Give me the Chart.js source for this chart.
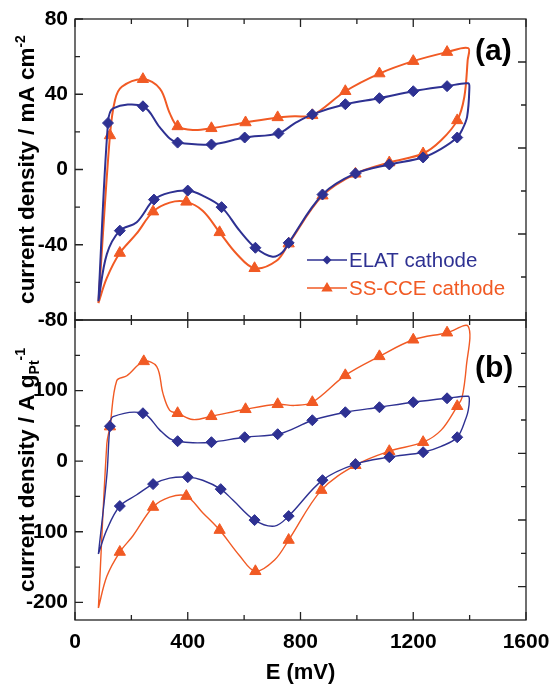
<!DOCTYPE html>
<html>
<head>
<meta charset="utf-8">
<script src="https://cdn.jsdelivr.net/npm/chart.js@4.4.1/dist/chart.umd.min.js"></script>
<style>
    html, body { margin: 0; padding: 0; background: #fff; }
    #wrap { position: relative; width: 550px; height: 686px; }
    #wrap canvas { position: absolute; left: 0; top: 0; }
</style>
</head>
<body>
<div id="wrap">
    <canvas id="chartA" width="550" height="686"></canvas>
    <canvas id="chartB" width="550" height="686"></canvas>
</div>
<script>
// Axis ticks
const xTicks = [0, 400, 800, 1200, 1600];
const yTicksA = [-80, -40, 0, 40, 80];
const yTicksB = [-200, -100, 0, 100];

// Panel (a): current density in mA cm-2, loop traced from the start point
const elatE_A = [83, 117, 135, 241, 301, 336, 364, 484, 602, 722, 779, 842, 959, 1080, 1200, 1320, 1395, 1399, 1391, 1373, 1356, 1299, 1235, 1115, 995, 878, 758, 736, 701, 640, 584, 520, 453, 400, 336, 280, 219, 159, 113, 83];
const elatJ_A = [-70, 24.7, 32.5, 33.6, 22.4, 16.5, 14.3, 13.3, 17, 19.2, 24.5, 29.3, 34.7, 37.9, 41.6, 44.3, 45.8, 43, 28, 21, 17, 11, 6.4, 2.7, -2.1, -13.3, -39, -44, -46.4, -41.6, -32.5, -20, -13.9, -11.2, -12.3, -16, -28, -32.5, -45, -70];
const ssE_A = [83, 124, 142, 166, 241, 301, 336, 364, 420, 484, 605, 719, 779, 842, 959, 1080, 1200, 1320, 1395, 1393, 1381, 1356, 1299, 1235, 1115, 995, 878, 758, 715, 637, 573, 513, 453, 395, 336, 277, 219, 159, 113, 83];
const ssJ_A = [-71, 18.1, 37, 44, 48, 43, 30, 22.9, 21, 21.9, 25, 27.7, 28.3, 28.8, 41.6, 51, 57.6, 62.4, 64.5, 58, 38.4, 26.1, 15.5, 8.5, 3.7, -2.3, -13.9, -39.4, -48.5, -52.5, -44.8, -33.4, -21.9, -17.2, -17.6, -22.4, -34, -44.4, -57.6, -71];

// Panel (a) markers
const elatMarkE_A = [117, 241, 364, 484, 602, 722, 842, 959, 1080, 1200, 1320, 1356, 1235, 1115, 995, 878, 758, 640, 520, 400, 280, 159];
const elatMarkJ_A = [24.7, 33.6, 14.3, 13.3, 17, 19.2, 29.3, 34.7, 37.9, 41.6, 44.3, 17, 6.4, 2.7, -2.1, -13.3, -39, -41.6, -20, -11.2, -16, -32.5];
const ssMarkE_A = [124, 241, 364, 484, 605, 719, 842, 959, 1080, 1200, 1320, 1356, 1235, 1115, 995, 878, 758, 637, 513, 395, 277, 159];
const ssMarkJ_A = [18.1, 48, 22.9, 21.9, 25, 27.7, 28.8, 41.6, 51, 57.6, 62.4, 26.1, 8.5, 3.7, -2.3, -13.9, -39.4, -52.5, -33.4, -17.2, -22.4, -44.4];

// Panel (b): current density in A gPt-1
const elatE_B = [83, 113, 124, 135, 241, 301, 336, 364, 418, 484, 602, 719, 779, 842, 959, 1080, 1200, 1320, 1395, 1399, 1395, 1388, 1356, 1299, 1235, 1115, 995, 878, 758, 708, 637, 560, 517, 453, 400, 336, 277, 219, 159, 113, 83];
const elatJ_B = [-131.5, -20, 49.5, 63, 67.9, 44, 32, 28.3, 26, 26.9, 33.9, 38.2, 46.7, 58, 69.3, 76.4, 83.5, 89.1, 91.9, 86, 72, 62, 33.9, 21, 12.7, 5.7, -4.2, -26.9, -77.8, -92, -83.5, -55, -39.6, -27, -22.6, -24, -32.5, -47.6, -63.6, -97, -131.5];
const ssE_B = [83, 113, 124, 148, 184, 244, 290, 312, 336, 364, 418, 484, 605, 719, 779, 842, 959, 1080, 1200, 1320, 1395, 1388, 1373, 1356, 1299, 1235, 1115, 995, 874, 758, 708, 640, 584, 513, 453, 395, 336, 277, 205, 159, 113, 83];
const ssJ_B = [-208, 25, 49, 114, 121, 141.4, 134, 96, 72, 67.9, 59, 63.6, 73.5, 80.6, 79, 83.5, 121.6, 148.5, 172, 182, 191, 133, 90, 77.8, 44, 26.9, 14.1, -5.7, -41, -111.7, -140, -156, -134, -97.6, -73, -49.5, -51, -65, -106, -128.7, -163, -208];

// Panel (b) markers
const elatMarkE_B = [124, 241, 364, 484, 602, 719, 842, 959, 1080, 1200, 1320, 1356, 1235, 1115, 995, 878, 758, 637, 517, 400, 277, 159];
const elatMarkJ_B = [49.5, 67.9, 28.3, 26.9, 33.9, 38.2, 58, 69.3, 76.4, 83.5, 89.1, 33.9, 12.7, 5.7, -4.2, -26.9, -77.8, -83.5, -39.6, -22.6, -32.5, -63.6];
const ssMarkE_B = [124, 244, 364, 484, 605, 719, 842, 959, 1080, 1200, 1320, 1356, 1235, 1115, 995, 874, 758, 640, 513, 395, 277, 159];
const ssMarkJ_B = [49, 141.4, 67.9, 63.6, 73.5, 80.6, 83.5, 121.6, 148.5, 172, 182, 77.8, 26.9, 14.1, -5.7, -41, -111.7, -156, -97.6, -49.5, -65, -128.7];

const FONT = '"Liberation Sans", Arial, Helvetica, sans-serif';
const BLUE = '#2E3192';
const ORANGE = '#F15A24';
const AXIS = '#222';

const toPoints = (E, J) => E.map((e, i) => ({ x: e, y: J[i] }));

function curveSet(E, J, color, width) {
    return {
        data: toPoints(E, J),
        showLine: true,
        borderColor: color,
        borderWidth: width,
        pointRadius: 0,
        tension: 0.35,
        fill: false
    };
}

function markerSet(E, J, color, style, radius) {
    return {
        data: toPoints(E, J),
        showLine: false,
        pointStyle: style,
        pointRadius: radius,
        backgroundColor: color,
        borderColor: color,
        borderWidth: 1
    };
}

// draws a rotated title made of runs (plain / sub / sup)
function drawRich(ctx, parts, cx, cy) {
    ctx.save();
    ctx.translate(cx, cy);
    ctx.rotate(-Math.PI / 2);
    ctx.textBaseline = 'alphabetic';
    ctx.textAlign = 'left';
    let total = 0;
    parts.forEach(p => {
        ctx.font = `bold ${p.size}px ${FONT}`;
        p.w = ctx.measureText(p.text).width;
        total += p.w;
    });
    let xx = -total / 2;
    parts.forEach(p => {
        ctx.font = `bold ${p.size}px ${FONT}`;
        ctx.fillStyle = '#000';
        ctx.fillText(p.text, xx, 8 + p.dy);
        xx += p.w;
    });
    ctx.restore();
}

function drawMarker(ctx, style, x, y, r, color) {
    ctx.fillStyle = color;
    ctx.beginPath();
    if (style === 'rectRot') {
        ctx.moveTo(x, y - r); ctx.lineTo(x + r, y); ctx.lineTo(x, y + r); ctx.lineTo(x - r, y);
    } else {
        ctx.moveTo(x, y - r); ctx.lineTo(x + r * 0.95, y + r * 0.6); ctx.lineTo(x - r * 0.95, y + r * 0.6);
    }
    ctx.closePath();
    ctx.fill();
}

// frame, inward ticks, y title, panel tag, legend
const panelDeco = {
    id: 'panelDeco',
    afterDatasetsDraw(chart, args, o) {
        const { ctx, chartArea: a } = chart;
        const xs = chart.scales.x, ys = chart.scales.y;
        ctx.save();
        ctx.strokeStyle = AXIS;
        ctx.lineWidth = 1.3;
        ctx.strokeRect(a.left, a.top, a.right - a.left, a.bottom - a.top);

        ctx.beginPath();
        xTicks.forEach((v, i) => {
            const marks = [[v, 8]];
            if (i < xTicks.length - 1) marks.push([(v + xTicks[i + 1]) / 2, 5]);
            marks.forEach(([val, len]) => {
                const px = xs.getPixelForValue(val);
                ctx.moveTo(px, a.top); ctx.lineTo(px, a.top + len);
                ctx.moveTo(px, a.bottom); ctx.lineTo(px, a.bottom - len);
            });
        });
        o.yTicks.forEach(v => {
            [[v, 8], [v + o.step / 2, 5], [v - o.step / 2, 5]].forEach(([val, len]) => {
                if (val < ys.min || val > ys.max) return;
                const py = ys.getPixelForValue(val);
                ctx.moveTo(a.left, py); ctx.lineTo(a.left + len, py);
            });
        });
        // right axis has its own evenly spaced, unlabeled ticks
        for (let k = 1; k < o.rightDivs; k++) {
            const py = a.top + (a.bottom - a.top) * k / o.rightDivs;
            const len = (k % 2 === o.rightLong) ? 8 : 5;
            ctx.moveTo(a.right, py); ctx.lineTo(a.right - len, py);
        }
        ctx.stroke();

        drawRich(ctx, o.title, 26, (a.top + a.bottom) / 2);

        ctx.fillStyle = '#000';
        ctx.font = `bold 30px ${FONT}`;
        ctx.textBaseline = 'middle';
        ctx.textAlign = 'left';
        ctx.fillText(o.tag, a.right - 51, a.top + o.tagDy);

        if (o.legend) {
            ctx.font = `20.5px ${FONT}`;
            o.legend.forEach((item, i) => {
                const ly = 260 + i * 28;
                ctx.strokeStyle = item.color;
                ctx.lineWidth = 1.5;
                ctx.beginPath();
                ctx.moveTo(307, ly); ctx.lineTo(347, ly);
                ctx.stroke();
                drawMarker(ctx, item.style, 327, ly, item.style === 'rectRot' ? 4.5 : 6, item.color);
                ctx.fillStyle = item.color;
                ctx.fillText(item.label, 349, ly + 1);
            });
        }
        ctx.restore();
    }
};

function panelOptions(cfg) {
    const tickFont = { family: FONT, size: 21, weight: 'bold' };
    return {
        responsive: false,
        animation: false,
        layout: { padding: { left: 0, right: 24, top: cfg.top, bottom: cfg.bottom } },
        plugins: {
            legend: { display: false },
            tooltip: { enabled: false },
            panelDeco: cfg.deco
        },
        scales: {
            x: {
                type: 'linear',
                min: 0,
                max: 1600,
                display: cfg.showX,
                afterBuildTicks: s => { s.ticks = xTicks.map(v => ({ value: v })); },
                afterFit: s => {
                    s.height = cfg.showX ? 66 : 0;
                    s.paddingLeft = 0;
                    s.paddingRight = 0;
                },
                grid: { display: false, drawTicks: false },
                border: { display: false },
                ticks: { font: tickFont, color: '#000', padding: 10, maxRotation: 0, autoSkip: false, callback: v => String(v) },
                title: {
                    display: true,
                    text: 'E (mV)',
                    color: '#000',
                    font: { family: FONT, size: 22, weight: 'bold' },
                    padding: { top: 0, bottom: 0 }
                }
            },
            y: {
                type: 'linear',
                min: cfg.yMin,
                max: cfg.yMax,
                afterBuildTicks: s => { s.ticks = cfg.yTicks.map(v => ({ value: v })); },
                afterFit: s => {
                    s.width = 75;
                    s.paddingTop = 0;
                    s.paddingBottom = 0;
                },
                grid: { display: false, drawTicks: false },
                border: { display: false },
                ticks: { font: tickFont, color: '#000', padding: 7, autoSkip: false, callback: v => String(v) }
            }
        }
    };
}

new Chart(document.getElementById('chartA'), {
    type: 'scatter',
    data: {
        datasets: [
            markerSet(elatMarkE_A, elatMarkJ_A, BLUE, 'rectRot', 5.5),
            curveSet(elatE_A, elatJ_A, BLUE, 2),
            markerSet(ssMarkE_A, ssMarkJ_A, ORANGE, 'triangle', 6.5),
            curveSet(ssE_A, ssJ_A, ORANGE, 2)
        ]
    },
    options: panelOptions({
        top: 19, bottom: 366, showX: false,
        yMin: -80, yMax: 80, yTicks: yTicksA,
        deco: {
            yTicks: yTicksA, step: 40, rightDivs: 7, rightLong: 1,
            tag: '(a)', tagDy: 33,
            title: [
                { text: 'current density / mA cm', size: 22.5, dy: 0 },
                { text: '-2', size: 14, dy: -9 }
            ],
            legend: [
                { label: 'ELAT cathode', color: BLUE, style: 'rectRot' },
                { label: 'SS-CCE cathode', color: ORANGE, style: 'triangle' }
            ]
        }
    }),
    plugins: [panelDeco]
});

new Chart(document.getElementById('chartB'), {
    type: 'scatter',
    data: {
        datasets: [
            markerSet(elatMarkE_B, elatMarkJ_B, BLUE, 'rectRot', 5.5),
            curveSet(elatE_B, elatJ_B, BLUE, 1.4),
            markerSet(ssMarkE_B, ssMarkJ_B, ORANGE, 'triangle', 6.5),
            curveSet(ssE_B, ssJ_B, ORANGE, 1.4)
        ]
    },
    options: panelOptions({
        top: 320, bottom: 0, showX: true,
        yMin: -225, yMax: 200, yTicks: yTicksB,
        deco: {
            yTicks: yTicksB, step: 100, rightDivs: 9, rightLong: 0,
            tag: '(b)', tagDy: 49,
            title: [
                { text: 'current density / A g', size: 22.5, dy: 0 },
                { text: 'Pt', size: 14, dy: 5 },
                { text: '-1', size: 14, dy: -9 }
            ]
        }
    }),
    plugins: [panelDeco]
});
</script>
</body>
</html>
